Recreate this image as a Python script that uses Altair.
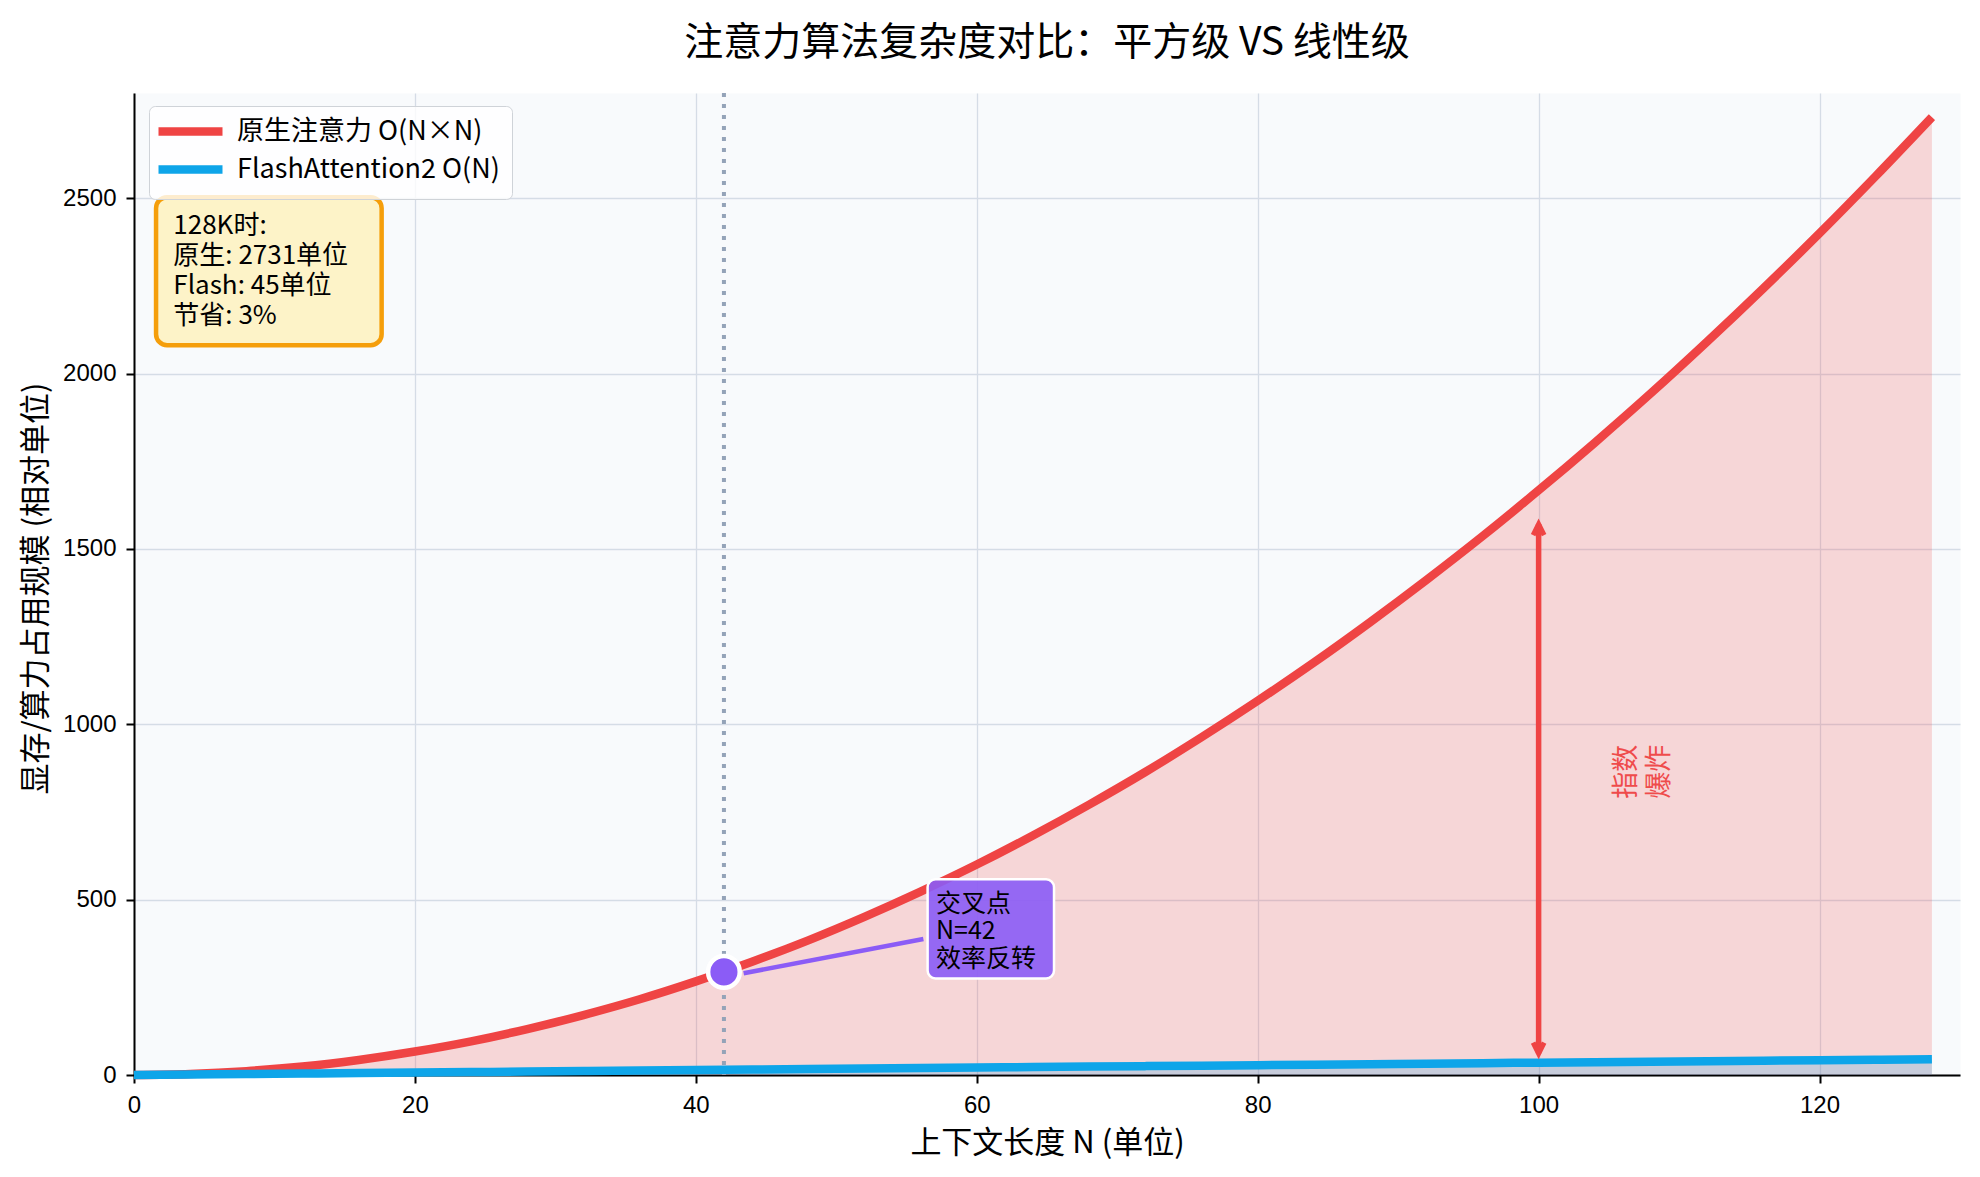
import altair as alt
import pandas as pd

# ---- data ----
N_VALUES = [0, 4, 8, 12, 16, 20, 24, 28, 32, 36, 40, 44, 48, 52, 56, 60, 64,
            68, 72, 76, 80, 84, 88, 92, 96, 100, 104, 108, 112, 116, 120, 124, 128]
NATIVE = [0, 3, 11, 24, 43, 67, 96, 131, 171, 216, 267, 323, 384, 451, 523, 600, 683,
          771, 864, 963, 1067, 1176, 1291, 1411, 1536, 1667, 1803, 1944, 2091, 2243, 2400, 2563, 2731]
FLASH = [0, 1.4, 2.8, 4.2, 5.6, 7.0, 8.4, 9.8, 11.3, 12.7, 14.1, 15.5, 16.9, 18.3, 19.7, 21.1, 22.5,
         23.9, 25.3, 26.7, 28.1, 29.5, 30.9, 32.3, 33.8, 35.2, 36.6, 38.0, 39.4, 40.8, 42.2, 43.6, 45]
SERIES = ["原生注意力 O(N×N)", "FlashAttention2 O(N)"]
COLORS = ["#ef4444", "#0ea5e9"]

X_TICKS = [0, 20, 40, 60, 80, 100, 120]
Y_TICKS = [0, 500, 1000, 1500, 2000, 2500]
X_DOMAIN = [0, 130]
Y_DOMAIN = [0, 2800]

TITLE = "注意力算法复杂度对比：平方级 VS 线性级"
X_TITLE = "上下文长度 N (单位)"
Y_TITLE = "显存/算力占用规模 (相对单位)"

CROSS_N = [42]
CROSS_V = [294]
CONNECTOR_N = [56.2, 43.4]
CONNECTOR_V = [388, 290]
CROSS_BOX_N = [56.5, 65.5]
CROSS_BOX_V = [275, 558]
CROSS_TEXT_POS = [57.1, 489]
CROSS_TEXT = "交叉点\nN=42\n效率反转"

INFO_BOX_N = [1.57, 17.63]
INFO_BOX_V = [2081, 2503]
INFO_TEXT_POS = [2.8, 2420]
INFO_TEXT = "128K时:\n原生: 2731单位\nFlash: 45单位\n节省: 3%"

ARROW_N = [100]
ARROW_V = [61, 1571]
ARROW_TEXT_POS = [106.3, 865]
ARROW_TEXT = "指数\n爆炸"

CJK = "Noto Sans CJK SC"
LATIN = "Liberation Sans"

# ---- tables ----
curve = pd.DataFrame({"n": N_VALUES, "native": NATIVE, "flash": FLASH})
long = pd.concat([
    pd.DataFrame({"n": N_VALUES, "v": NATIVE, "series": SERIES[0]}),
    pd.DataFrame({"n": N_VALUES, "v": FLASH, "series": SERIES[1]}),
])

xs = alt.Scale(domain=X_DOMAIN, nice=False, zero=False)
ys = alt.Scale(domain=Y_DOMAIN, nice=False, zero=False)
x_axis = alt.Axis(values=X_TICKS, title=X_TITLE, labelFlush=False, grid=True, format="d",
                  titleY=68, titleBaseline="middle")
y_axis = alt.Axis(values=Y_TICKS, title=Y_TITLE, labelFlush=False, grid=True, format="d",
                  titleX=-98, titleY=495, titleAngle=270, titleAlign="center",
                  titleBaseline="middle")

def X(field):
    return alt.X(field, scale=xs, axis=x_axis, title=X_TITLE)

def Y(field):
    return alt.Y(field, scale=ys, axis=y_axis, title=Y_TITLE)

red_area = alt.Chart(curve).mark_area(color=COLORS[0], opacity=0.2, interpolate="monotone").encode(
    x=X("n:Q"), y=Y("native:Q"))
blue_area = alt.Chart(curve).mark_area(color=COLORS[1], opacity=0.2, interpolate="monotone").encode(
    x=X("n:Q"), y=Y("flash:Q"))

vline = alt.Chart(pd.DataFrame({"n": CROSS_N})).mark_rule(
    color="#94a3b8", strokeWidth=4, strokeDash=[4, 7]).encode(x=X("n:Q"))

lines = alt.Chart(long).mark_line(strokeWidth=8.5, interpolate="monotone").encode(
    x=X("n:Q"), y=Y("v:Q"),
    color=alt.Color("series:N", scale=alt.Scale(domain=SERIES, range=COLORS),
                    legend=alt.Legend(title=None, orient="none", legendX=15, legendY=13,
                                      symbolType="M-8,0L8,0", symbolSize=64,
                                      symbolStrokeWidth=8.5, symbolOffset=16,
                                      labelFont=CJK, labelFontSize=27, labelColor="black",
                                      labelOffset=33, labelLimit=800,
                                      padding=12, rowPadding=3,
                                      fillColor="rgba(255,255,255,0.8)",
                                      strokeColor="#cfd3d8", cornerRadius=6)),
    detail="series:N")

arrow_df = pd.DataFrame({"n": ARROW_N, "v": [ARROW_V[0]], "v2": [ARROW_V[1]]})
arrow_shaft = alt.Chart(arrow_df).mark_rule(color=COLORS[0], strokeWidth=5.5).encode(
    x=X("n:Q"), y=Y("v:Q"), y2="v2:Q")
arrow_top = alt.Chart(pd.DataFrame({"n": ARROW_N, "v": [ARROW_V[1]]})).mark_point(
    shape="M-1,2L0,0L1,2", size=121, filled=False, color=COLORS[0], strokeWidth=5,
    opacity=1).encode(x=X("n:Q"), y=Y("v:Q"))
arrow_bottom = alt.Chart(pd.DataFrame({"n": ARROW_N, "v": [ARROW_V[0]]})).mark_point(
    shape="M-1,-2L0,0L1,-2", size=121, filled=False, color=COLORS[0], strokeWidth=5,
    opacity=1).encode(x=X("n:Q"), y=Y("v:Q"))
arrow_text = alt.Chart(pd.DataFrame({"n": [ARROW_TEXT_POS[0]], "v": [ARROW_TEXT_POS[1]],
                                     "t": [ARROW_TEXT]})).mark_text(
    font=CJK, fontSize=27, color=COLORS[0], angle=270, align="center", baseline="middle",
    lineBreak="\n", lineHeight=33, opacity=0.95).encode(x=X("n:Q"), y=Y("v:Q"), text="t:N")

connector = alt.Chart(pd.DataFrame({"n": CONNECTOR_N, "v": CONNECTOR_V})).mark_line(
    color="#8b5cf6", strokeWidth=4.5).encode(x=X("n:Q"), y=Y("v:Q"))
dot = alt.Chart(pd.DataFrame({"n": CROSS_N, "v": CROSS_V})).mark_point(
    shape="circle", size=1000, filled=True, color="#8b5cf6", opacity=1,
    stroke="white", strokeWidth=4.5).encode(x=X("n:Q"), y=Y("v:Q"))

cross_box = alt.Chart(pd.DataFrame({"n": [CROSS_BOX_N[0]], "n2": [CROSS_BOX_N[1]],
                                    "v": [CROSS_BOX_V[0]], "v2": [CROSS_BOX_V[1]]})).mark_rect(
    fill="#8b5cf6", fillOpacity=0.9, stroke="white", strokeWidth=2.5, cornerRadius=8).encode(
    x=X("n:Q"), x2="n2:Q", y=Y("v:Q"), y2="v2:Q")
cross_text = alt.Chart(pd.DataFrame({"n": [CROSS_TEXT_POS[0]], "v": [CROSS_TEXT_POS[1]],
                                     "t": [CROSS_TEXT]})).mark_text(
    font=CJK, fontSize=25, color="black", align="left", baseline="middle",
    lineBreak="\n", lineHeight=27.5).encode(x=X("n:Q"), y=Y("v:Q"), text="t:N")

info_box = alt.Chart(pd.DataFrame({"n": [INFO_BOX_N[0]], "n2": [INFO_BOX_N[1]],
                                   "v": [INFO_BOX_V[0]], "v2": [INFO_BOX_V[1]]})).mark_rect(
    fill="#fdf3c8", stroke="#f59e0b", strokeWidth=4.5, cornerRadius=11).encode(
    x=X("n:Q"), x2="n2:Q", y=Y("v:Q"), y2="v2:Q")
info_text = alt.Chart(pd.DataFrame({"n": [INFO_TEXT_POS[0]], "v": [INFO_TEXT_POS[1]],
                                    "t": [INFO_TEXT]})).mark_text(
    font=CJK, fontSize=26, color="black", align="left", baseline="middle",
    lineBreak="\n", lineHeight=30).encode(x=X("n:Q"), y=Y("v:Q"), text="t:N")

chart = alt.layer(
    red_area, blue_area, vline, lines, arrow_shaft, arrow_top, arrow_bottom, arrow_text,
    connector, dot, cross_box, cross_text, info_box, info_text
).properties(
    width=1826, height=982,
    autosize=alt.AutoSizeParams(type="none"),
    padding={"left": 126, "top": 85, "right": 12, "bottom": 94},
    background="white",
    title=alt.TitleParams(TITLE, font=CJK, fontSize=39, fontWeight="normal", color="black",
                          anchor="middle", baseline="bottom", offset=32, dy=43),
).configure_view(
    fill="#f8fafc", stroke="transparent"
).configure_axis(
    domainColor="black", domainWidth=2, tickColor="black", tickWidth=2, tickSize=8,
    labelFont=LATIN, labelFontSize=24, labelColor="black", labelPadding=10,
    gridColor="#d5dce6", gridWidth=1.3,
    titleFont=CJK, titleFontSize=31, titleColor="black", titleFontWeight="normal",
)

chart.save("out.html", embed_options={"renderer": "svg", "actions": False})
